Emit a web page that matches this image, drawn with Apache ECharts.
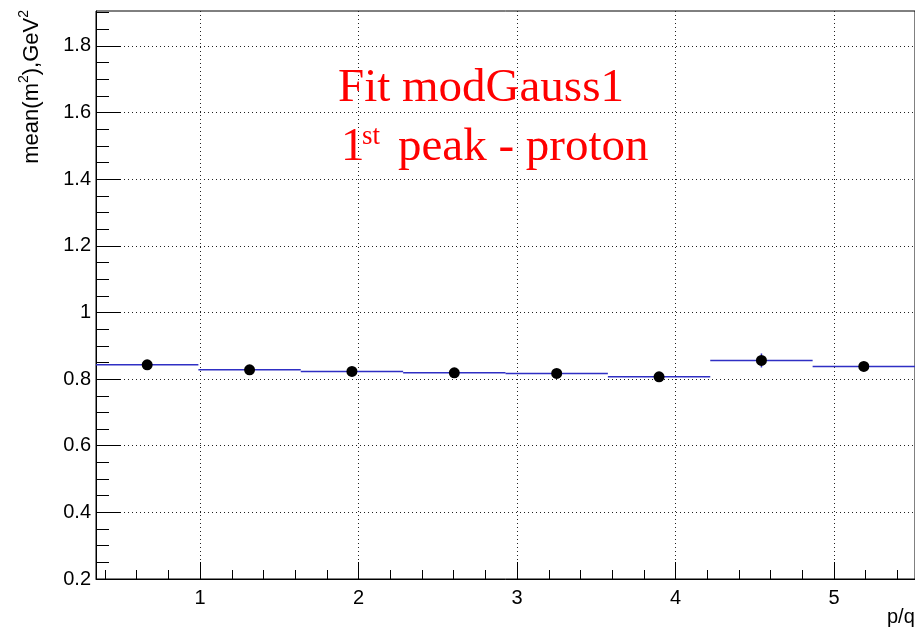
<!DOCTYPE html>
<html><head><meta charset="utf-8">
<script src="https://cdn.jsdelivr.net/npm/echarts@6/dist/echarts.min.js"></script>
<style>html,body{margin:0;padding:0;background:#fff}#c{width:915px;height:631px}</style>
</head><body><div id="c"></div>
<script>
// ---- data ----
const pCenters = [0.666, 1.312, 1.958, 2.604, 3.250, 3.896, 4.542, 5.188];
const binEdges = [0.343, 0.989, 1.635, 2.281, 2.927, 3.573, 4.219, 4.865, 5.511];
const meanM2   = [0.843, 0.828, 0.823, 0.819, 0.817, 0.807, 0.856, 0.838];
const meanErr  = [0.008, 0.008, 0.008, 0.009, 0.009, 0.010, 0.021, 0.012];
const xMajorTicks = [1, 2, 3, 4, 5];
const xMinorTicks = [0.4, 0.6, 0.8, 1.2, 1.4, 1.6, 1.8, 2.2, 2.4, 2.6, 2.8, 3.2, 3.4, 3.6, 3.8, 4.2, 4.4, 4.6, 4.8, 5.2, 5.4];
const yMajorTicks = [0.2, 0.4, 0.6, 0.8, 1.0, 1.2, 1.4, 1.6, 1.8];
const yMinorTicks = [0.25, 0.3, 0.35, 0.45, 0.5, 0.55, 0.65, 0.7, 0.75, 0.85, 0.9, 0.95, 1.05, 1.1, 1.15, 1.25, 1.3, 1.35, 1.45, 1.5, 1.55, 1.65, 1.7, 1.75, 1.85, 1.9];
const xMin = 0.343, xMax = 5.511, yMin = 0.2, yMax = 1.905;

const BLUE = '#2f2fc4';
const FONT = 'Liberation Sans, Arial, Helvetica, sans-serif';
const SERIF = 'Liberation Serif, Times New Roman, serif';

const chart = echarts.init(document.getElementById('c'), null, {renderer: 'canvas'});

const errData = pCenters.map((x, i) => [x, meanM2[i], binEdges[i], binEdges[i + 1], meanErr[i]]);
const ptData = pCenters.map((x, i) => [x, meanM2[i]]);

function txt(text, x, y, font, fill, align, valign, rotation) {
  return {
    type: 'text', x: x, y: y, rotation: rotation || 0, silent: true, z: 100,
    style: {text: text, font: font, fill: fill, align: align, verticalAlign: valign,
            textAlign: align, textVerticalAlign: valign}
  };
}

chart.setOption({
  animation: false,
  backgroundColor: '#fff',
  grid: {left: 96, top: 11, width: 820, height: 568, show: true, borderColor: '#000', borderWidth: 1, containLabel: false},
  xAxis: [
    {type: 'value', min: xMin, max: xMax, position: 'bottom',
     axisLine: {show: true, onZero: false, lineStyle: {color: '#000', width: 1}},
     axisTick: {show: true, inside: true, length: 17, customValues: xMajorTicks, lineStyle: {color: '#000', width: 1}},
     axisLabel: {show: true, customValues: xMajorTicks, fontSize: 20, fontFamily: FONT, color: '#000', margin: 9},
     splitLine: {show: true, lineStyle: {type: [1, 3], color: '#222', width: 1}},
     minorTick: {show: false}},
    {type: 'value', min: xMin, max: xMax, position: 'bottom',
     axisLine: {show: false},
     axisTick: {show: true, inside: true, length: 9, customValues: xMinorTicks, lineStyle: {color: '#000', width: 1}},
     axisLabel: {show: false},
     splitLine: {show: false}}
  ],
  yAxis: [
    {type: 'value', min: yMin, max: yMax, position: 'left',
     axisLine: {show: true, onZero: false, lineStyle: {color: '#000', width: 1}},
     axisTick: {show: true, inside: true, length: 25, customValues: yMajorTicks, lineStyle: {color: '#000', width: 1}},
     axisLabel: {show: true, customValues: yMajorTicks, fontSize: 20, fontFamily: FONT, color: '#000', margin: 5},
     splitLine: {show: true, lineStyle: {type: [1, 3], color: '#222', width: 1}}},
    {type: 'value', min: yMin, max: yMax, position: 'left',
     axisLine: {show: false},
     axisTick: {show: true, inside: true, length: 13, customValues: yMinorTicks, lineStyle: {color: '#000', width: 1}},
     axisLabel: {show: false},
     splitLine: {show: false}}
  ],
  series: [
    {type: 'custom', xAxisIndex: 0, yAxisIndex: 0, data: errData, z: 3, silent: true,
     encode: {x: 0, y: 1},
     renderItem: function (params, api) {
       const y = api.value(1);
       const a = api.coord([api.value(2), y]);
       const b = api.coord([api.value(3), y]);
       const c = api.coord([api.value(0), y]);
       const t = api.coord([api.value(0), y + api.value(4)]);
       const d = api.coord([api.value(0), y - api.value(4)]);
       return {type: 'group', children: [
         {type: 'line', shape: {x1: a[0], y1: a[1], x2: b[0], y2: b[1]}, style: {stroke: BLUE, lineWidth: 1.5}},
         {type: 'line', shape: {x1: c[0], y1: t[1], x2: c[0], y2: d[1]}, style: {stroke: BLUE, lineWidth: 1.5}}
       ]};
     }},
    {type: 'scatter', xAxisIndex: 0, yAxisIndex: 0, data: ptData, symbol: 'circle', symbolSize: 11,
     itemStyle: {color: '#000', opacity: 1}, z: 4, silent: true}
  ],
  graphic: [
    txt('Fit modGauss1', 338, 89, '47px ' + SERIF, '#ff0000', 'left', 'middle'),
    txt('1', 341, 148, '47px ' + SERIF, '#ff0000', 'left', 'middle'),
    txt('st', 362, 137, '27px ' + SERIF, '#ff0000', 'left', 'middle'),
    txt('peak - proton', 398, 148, '47px ' + SERIF, '#ff0000', 'left', 'middle'),
    {type: 'text', x: 32, y: 10, rotation: Math.PI / 2, silent: true, z: 100,
     style: {text: '{m|mean(m}{s|2}{m|),GeV}{s|2}', fill: '#000',
             align: 'right', verticalAlign: 'middle', textAlign: 'right', textVerticalAlign: 'middle',
             rich: {
               m: {fontSize: 22, fontFamily: FONT, lineHeight: 30, fill: '#000', color: '#000'},
               s: {fontSize: 14, fontFamily: FONT, lineHeight: 14, verticalAlign: 'top', fill: '#000', color: '#000'}
             }}},
    txt('p/q', 887, 617, '20px ' + FONT, '#000', 'left', 'middle')
  ]
});
</script>
</body></html>
